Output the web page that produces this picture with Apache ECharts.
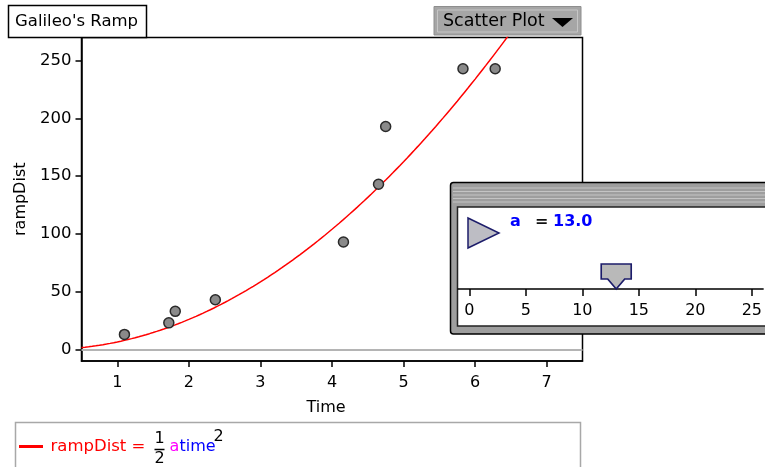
<!DOCTYPE html>
<html>
<head>
<meta charset="utf-8">
<script src="https://cdn.jsdelivr.net/npm/echarts@6/dist/echarts.min.js"></script>
<style>
  html, body { margin: 0; padding: 0; background: #fff; }
  #chart { width: 765px; height: 467px; }
</style>
</head>
<body>
<div id="chart"></div>
<script>
// Galileo's ramp: distance rolled down the ramp against elapsed time
const times    = [1.10, 1.72, 1.81, 2.37, 4.16, 4.65, 4.75, 5.83, 6.28];
const rampDist = [13, 23, 33, 43, 93, 143, 193, 243, 243];

const xTicks = [1, 2, 3, 4, 5, 6, 7];
const yTicks = [0, 50, 100, 150, 200, 250];

// slider for the model parameter a
const sliderTicks = [0, 5, 10, 15, 20, 25];
const a = 13.0;

// model curve rampDist = 1/2 * a * time^2, sampled across the time axis
const curveTimes = [];
for (let t = 0.5; t <= 6.7; t += 0.05) curveTimes.push(+t.toFixed(2));
const curve = curveTimes.map(t => [t, 0.5 * a * t * t]);
const points = times.map((t, i) => [t, rampDist[i]]);

const FONT = 'DejaVu Sans';
const chart = echarts.init(document.getElementById('chart'), null, { renderer: 'canvas' });

const txt = (x, y, text, fill, extra) => Object.assign({
  type: 'text', x, y, z: 20,
  style: Object.assign({
    text, fill, fontFamily: FONT, fontSize: 16,
    align: 'left', verticalAlign: 'middle',
    textAlign: 'left', textVerticalAlign: 'middle'
  }, extra || {})
});

chart.setOption({
  animation: false,
  backgroundColor: '#fff',
  grid: [
    { left: 81.5, right: 182.5, top: 37.5, bottom: 106, show: true,
      backgroundColor: '#fff', borderColor: '#000', borderWidth: 1.5 },
    { left: 458, right: 1, top: 207, bottom: 178, show: false }
  ],
  xAxis: [
    {
      gridIndex: 0, type: 'value', min: 0.5, max: 7.5,
      name: 'Time', nameLocation: 'middle', nameGap: 39,
      nameTextStyle: { color: '#000', fontFamily: FONT, fontSize: 16, padding: [0, 12, 0, 0] },
      axisLine: { onZero: false, lineStyle: { color: '#000', width: 1.5 } },
      axisTick: { customValues: xTicks, length: 6, lineStyle: { color: '#000', width: 1.5 } },
      axisLabel: { customValues: xTicks, margin: 14, color: '#000', fontFamily: FONT, fontSize: 16 },
      splitLine: { show: false }
    },
    {
      gridIndex: 1, type: 'value', min: -1, max: 26, z: 10,
      axisLine: { onZero: false, lineStyle: { color: '#000', width: 1.5 } },
      axisTick: { customValues: sliderTicks, length: 7, lineStyle: { color: '#000', width: 1.5 } },
      axisLabel: { customValues: sliderTicks, margin: 14, color: '#000', fontFamily: FONT, fontSize: 16 },
      splitLine: { show: false }
    }
  ],
  yAxis: [
    {
      gridIndex: 0, type: 'value', min: -10, max: 270,
      name: 'rampDist', nameLocation: 'middle', nameRotate: 90, nameGap: 41,
      nameTextStyle: { color: '#000', fontFamily: FONT, fontSize: 16 },
      axisLine: { onZero: false, lineStyle: { color: '#000', width: 1.5 } },
      axisTick: { customValues: yTicks, length: 6, lineStyle: { color: '#000', width: 1.5 } },
      axisLabel: { customValues: yTicks, margin: 10, color: '#000', fontFamily: FONT, fontSize: 16.5 },
      splitLine: { show: false }
    },
    { gridIndex: 1, type: 'value', min: 0, max: 1, show: false }
  ],
  series: [
    {
      type: 'line', xAxisIndex: 0, yAxisIndex: 0, data: curve,
      showSymbol: false, clip: true, z: 2, silent: true,
      lineStyle: { color: '#ff0000', width: 1.5 },
      markLine: {
        silent: true, symbol: 'none', label: { show: false },
        lineStyle: { color: '#b4b4b4', width: 2, type: 'solid' },
        data: [{ yAxis: 0 }]
      }
    },
    {
      type: 'scatter', xAxisIndex: 0, yAxisIndex: 0, data: points,
      symbol: 'circle', symbolSize: 10, z: 3, silent: true,
      itemStyle: { color: '#8a8a8a', borderColor: '#2a2a2a', borderWidth: 1.5, opacity: 1 }
    },
    {
      // slider thumb sitting at the current value of a
      type: 'scatter', xAxisIndex: 1, yAxisIndex: 1, data: [[a, 0]],
      symbol: 'path://M0,0 H30 V15 H23.5 L15,25 L6.5,15 H0 Z',
      symbolSize: [30, 25], symbolOffset: [0, '-50%'], symbolKeepAspect: false,
      z: 12, silent: true,
      itemStyle: { color: '#b9b9b9', borderColor: '#1c1c6a', borderWidth: 1.5, opacity: 1 }
    }
  ],
  graphic: {
    elements: [
      // collection title tab
      { type: 'rect', z: 5, shape: { x: 8.5, y: 5.5, width: 138, height: 32 },
        style: { fill: '#fff', stroke: '#000', lineWidth: 1.5 } },
      txt(15, 22, "Galileo's Ramp", '#000', { fontSize: 16.5 }),

      // plot type menu button
      { type: 'rect', z: 5, shape: { x: 434, y: 6.5, width: 147, height: 28.5 },
        style: { fill: '#a6a6a6', stroke: '#8e8e8e', lineWidth: 1 } },
      { type: 'rect', z: 6, shape: { x: 437.5, y: 10, width: 140, height: 22 },
        style: { fill: 'none', stroke: '#c6c6c6', lineWidth: 1 } },
      txt(443, 21, 'Scatter Plot', '#000', { fontSize: 17.5 }),
      { type: 'polygon', z: 20, shape: { points: [[552, 18], [573, 18], [562.5, 27]] },
        style: { fill: '#000' } },

      // slider window
      { type: 'rect', z: 5, shape: { x: 450.5, y: 182.5, width: 330, height: 151.5, r: 3 },
        style: { fill: '#9e9e9e', stroke: '#000', lineWidth: 1.5 } },
      { type: 'line', z: 6, shape: { x1: 453, y1: 188, x2: 770, y2: 188 }, style: { stroke: '#c4c4c4', lineWidth: 1 } },
      { type: 'line', z: 6, shape: { x1: 453, y1: 191.5, x2: 770, y2: 191.5 }, style: { stroke: '#c4c4c4', lineWidth: 1 } },
      { type: 'line', z: 6, shape: { x1: 453, y1: 195, x2: 770, y2: 195 }, style: { stroke: '#c4c4c4', lineWidth: 1 } },
      { type: 'line', z: 6, shape: { x1: 453, y1: 198.5, x2: 770, y2: 198.5 }, style: { stroke: '#c4c4c4', lineWidth: 1 } },
      { type: 'line', z: 6, shape: { x1: 453, y1: 202, x2: 770, y2: 202 }, style: { stroke: '#c4c4c4', lineWidth: 1 } },
      { type: 'rect', z: 7, shape: { x: 457.5, y: 207, width: 320, height: 119 },
        style: { fill: '#fff', stroke: '#222', lineWidth: 1.5 } },
      { type: 'polygon', z: 20, shape: { points: [[468, 218], [499, 233], [468, 248]] },
        style: { fill: '#bdbdc4', stroke: '#1c1c6a', lineWidth: 1.5 } },
      txt(510, 221.5, 'a', '#0000ff', { fontWeight: 'bold' }),
      txt(535, 221.5, '=', '#111', { fontWeight: 'bold' }),
      txt(553, 221.5, a.toFixed(1), '#0000ff', { fontWeight: 'bold' }),

      // formula legend
      { type: 'rect', z: 5, shape: { x: 15.5, y: 422.5, width: 565, height: 60 },
        style: { fill: 'none', stroke: '#a8a8a8', lineWidth: 1.5 } },
      { type: 'line', z: 6, shape: { x1: 19, y1: 446.5, x2: 43, y2: 446.5 },
        style: { stroke: '#ff0000', lineWidth: 3 } },
      txt(50.5, 446.5, 'rampDist =', '#ff0000', { fontSize: 16.5 }),
      txt(159.5, 439, '1', '#000', { align: 'center', textAlign: 'center' }),
      { type: 'line', z: 6, shape: { x1: 154.5, y1: 449.5, x2: 164.5, y2: 449.5 },
        style: { stroke: '#000', lineWidth: 1.5 } },
      txt(159.5, 459, '2', '#000', { align: 'center', textAlign: 'center' }),
      txt(169.5, 446.5, 'a', '#ff00ff'),
      txt(179.5, 446.5, 'time', '#0000ff'),
      txt(213.5, 436.5, '2', '#000')
    ]
  }
});
</script>
</body>
</html>
